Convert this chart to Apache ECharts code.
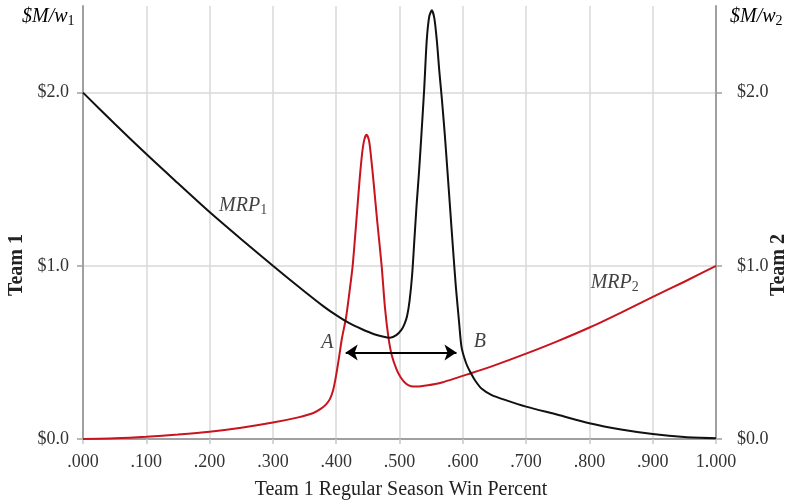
<!DOCTYPE html>
<html>
<head>
<meta charset="utf-8">
<script src="https://cdn.jsdelivr.net/npm/echarts@6/dist/echarts.min.js"></script>
<style>html,body{margin:0;padding:0;background:#fff;}#c{width:795px;height:503px;}</style>
</head>
<body>
<div id="c"></div>
<script>
// Team 1 win percent vs marginal revenue product ($M per win)
const mrp1X = [0.00,0.05,0.10,0.14,0.20,0.25,0.30,0.35,0.38,0.40,0.42,0.44,0.46,0.475,0.485,0.495,0.503,0.508,0.512,0.516,0.520,0.5235,0.527,0.531,0.535,0.539,0.543,0.547,0.551,0.555,0.559,0.563,0.567,0.5715,0.5755,0.580,0.5845,0.589,0.594,0.598,0.605,0.612,0.620,0.630,0.645,0.669,0.70,0.75,0.80,0.85,0.90,0.95,1.00];
const mrp1Y = [2.00,1.82,1.645,1.51,1.31,1.153,1.00,0.852,0.766,0.715,0.67,0.635,0.605,0.59,0.585,0.60,0.63,0.665,0.71,0.80,0.95,1.15,1.35,1.55,1.78,2.02,2.30,2.44,2.475,2.43,2.30,2.12,1.96,1.76,1.56,1.33,1.10,0.88,0.68,0.53,0.44,0.385,0.335,0.29,0.255,0.223,0.187,0.14,0.091,0.055,0.029,0.012,0.005];
const mrp2X = [0.00,0.05,0.10,0.15,0.20,0.25,0.30,0.34,0.364,0.376,0.384,0.390,0.395,0.399,0.404,0.409,0.4155,0.421,0.426,0.431,0.4366,0.441,0.4445,0.448,0.452,0.455,0.4586,0.465,0.4718,0.477,0.4824,0.488,0.4955,0.502,0.51,0.518,0.527,0.545,0.564,0.614,0.65,0.701,0.75,0.801,0.85,0.901,0.95,1.00];
const mrp2Y = [0.00,0.004,0.013,0.026,0.042,0.065,0.095,0.125,0.15,0.175,0.20,0.23,0.28,0.35,0.46,0.58,0.70,0.85,1.00,1.22,1.48,1.65,1.73,1.757,1.72,1.63,1.50,1.25,1.00,0.76,0.59,0.48,0.40,0.355,0.32,0.305,0.303,0.31,0.323,0.381,0.425,0.494,0.565,0.645,0.73,0.822,0.908,1.00];
const yTicks = [0,1,2];
// annotations: [text key, x, y]
const notes = [['MRP1',0.253,1.347],['MRP2',0.840,0.903],['A',0.386,0.555],['B',0.627,0.564]];
const arrowSpan = [[0.415,0.5],[0.590,0.5]];

const FONT = '"Liberation Serif", "DejaVu Serif", serif';
const zip = (xs, ys) => xs.map((x, i) => [x, ys[i]]);
const chart = echarts.init(document.getElementById('c'), null, {renderer: 'canvas'});
const richT = {
  i: {fontFamily: FONT, fontStyle: 'italic', fontSize: 20, color: '#111', lineHeight: 24},
  s: {fontFamily: FONT, fontSize: 14, color: '#111', lineHeight: 24, padding: [9, 0, 0, 0]}
};
const noteText = {
  MRP1: '{i|MRP}{s|1}', MRP2: '{i|MRP}{s|2}', A: '{i|A}', B: '{i|B}'
};
const yAxisBase = (pos, margin, split) => ({
  type: 'value', min: 0, max: 2.5, interval: 0.5, position: pos,
  axisLine: {show: true, onZero: false, lineStyle: {color: '#a0a0a0', width: 2}},
  axisTick: {show: true, customValues: yTicks, length: 6, lineStyle: {color: '#a0a0a0', width: 1.5}},
  axisLabel: {customValues: yTicks, margin: margin, fontFamily: FONT, fontSize: 18, color: '#333',
    formatter: v => (Math.abs(v - Math.round(v)) < 1e-6 && v < 2.4) ? '$' + v.toFixed(1) : ''},
  splitLine: {show: split, lineStyle: {color: '#d9d9d9', width: 1.5}}
});
chart.setOption({
  animation: false,
  grid: {left: 83, right: 79, top: 6, bottom: 64, containLabel: false},
  xAxis: {
    type: 'value', min: 0, max: 1, interval: 0.1,
    axisLine: {show: true, onZero: false, lineStyle: {color: '#a0a0a0', width: 2}},
    axisTick: {show: true, length: 5, lineStyle: {color: '#c8c8c8', width: 1.5}},
    axisLabel: {margin: 14, fontFamily: FONT, fontSize: 18, color: '#333',
      formatter: v => { const k = Math.round(v * 1000); return k >= 1000 ? '1.000' : '.' + String(k).padStart(3, '0'); }},
    splitLine: {show: true, lineStyle: {color: '#d9d9d9', width: 1.5}}
  },
  yAxis: [yAxisBase('left', 14, true), yAxisBase('right', 21, false)],
  graphic: [
    {type: 'text', left: 22, top: 5, style: {text: '{i|$M/w}{s|1}', rich: richT}},
    {type: 'text', left: 730, top: 5, style: {text: '{i|$M/w}{s|2}', rich: richT}},
    {type: 'text', x: 17, y: 265, rotation: Math.PI / 2,
      style: {text: 'Team 1', fontFamily: FONT, fontSize: 20, fontWeight: 'bold', fill: '#222', align: 'center', verticalAlign: 'middle'}},
    {type: 'text', x: 779, y: 265, rotation: Math.PI / 2,
      style: {text: 'Team 2', fontFamily: FONT, fontSize: 20, fontWeight: 'bold', fill: '#222', align: 'center', verticalAlign: 'middle'}},
    {type: 'text', x: 401, y: 490,
      style: {text: 'Team 1 Regular Season Win Percent', fontFamily: FONT, fontSize: 20, fill: '#222', align: 'center', verticalAlign: 'middle'}}
  ],
  series: [
    {type: 'line', name: 'MRP2', data: zip(mrp2X, mrp2Y), showSymbol: false, smooth: 0.25,
      lineStyle: {color: '#c8141e', width: 2}, itemStyle: {color: '#c8141e'}, z: 3, silent: true},
    {type: 'line', name: 'MRP1', data: zip(mrp1X, mrp1Y), showSymbol: false, smooth: 0.25,
      lineStyle: {color: '#111', width: 2}, itemStyle: {color: '#111'}, z: 4, silent: true},
    {type: 'scatter', data: notes.map(n => ({value: [n[1], n[2]], key: n[0]})), symbolSize: 0, silent: true, z: 5,
      label: {show: true, position: 'inside', color: '#111', formatter: p => noteText[p.data.key], rich: richT},
      markLine: {silent: true, symbol: ['arrow', 'arrow'], symbolSize: 12,
        lineStyle: {color: '#000', width: 2, type: 'solid'}, label: {show: false},
        data: [[{coord: arrowSpan[0]}, {coord: arrowSpan[1]}]]}}
  ]
});
</script>
</body>
</html>
